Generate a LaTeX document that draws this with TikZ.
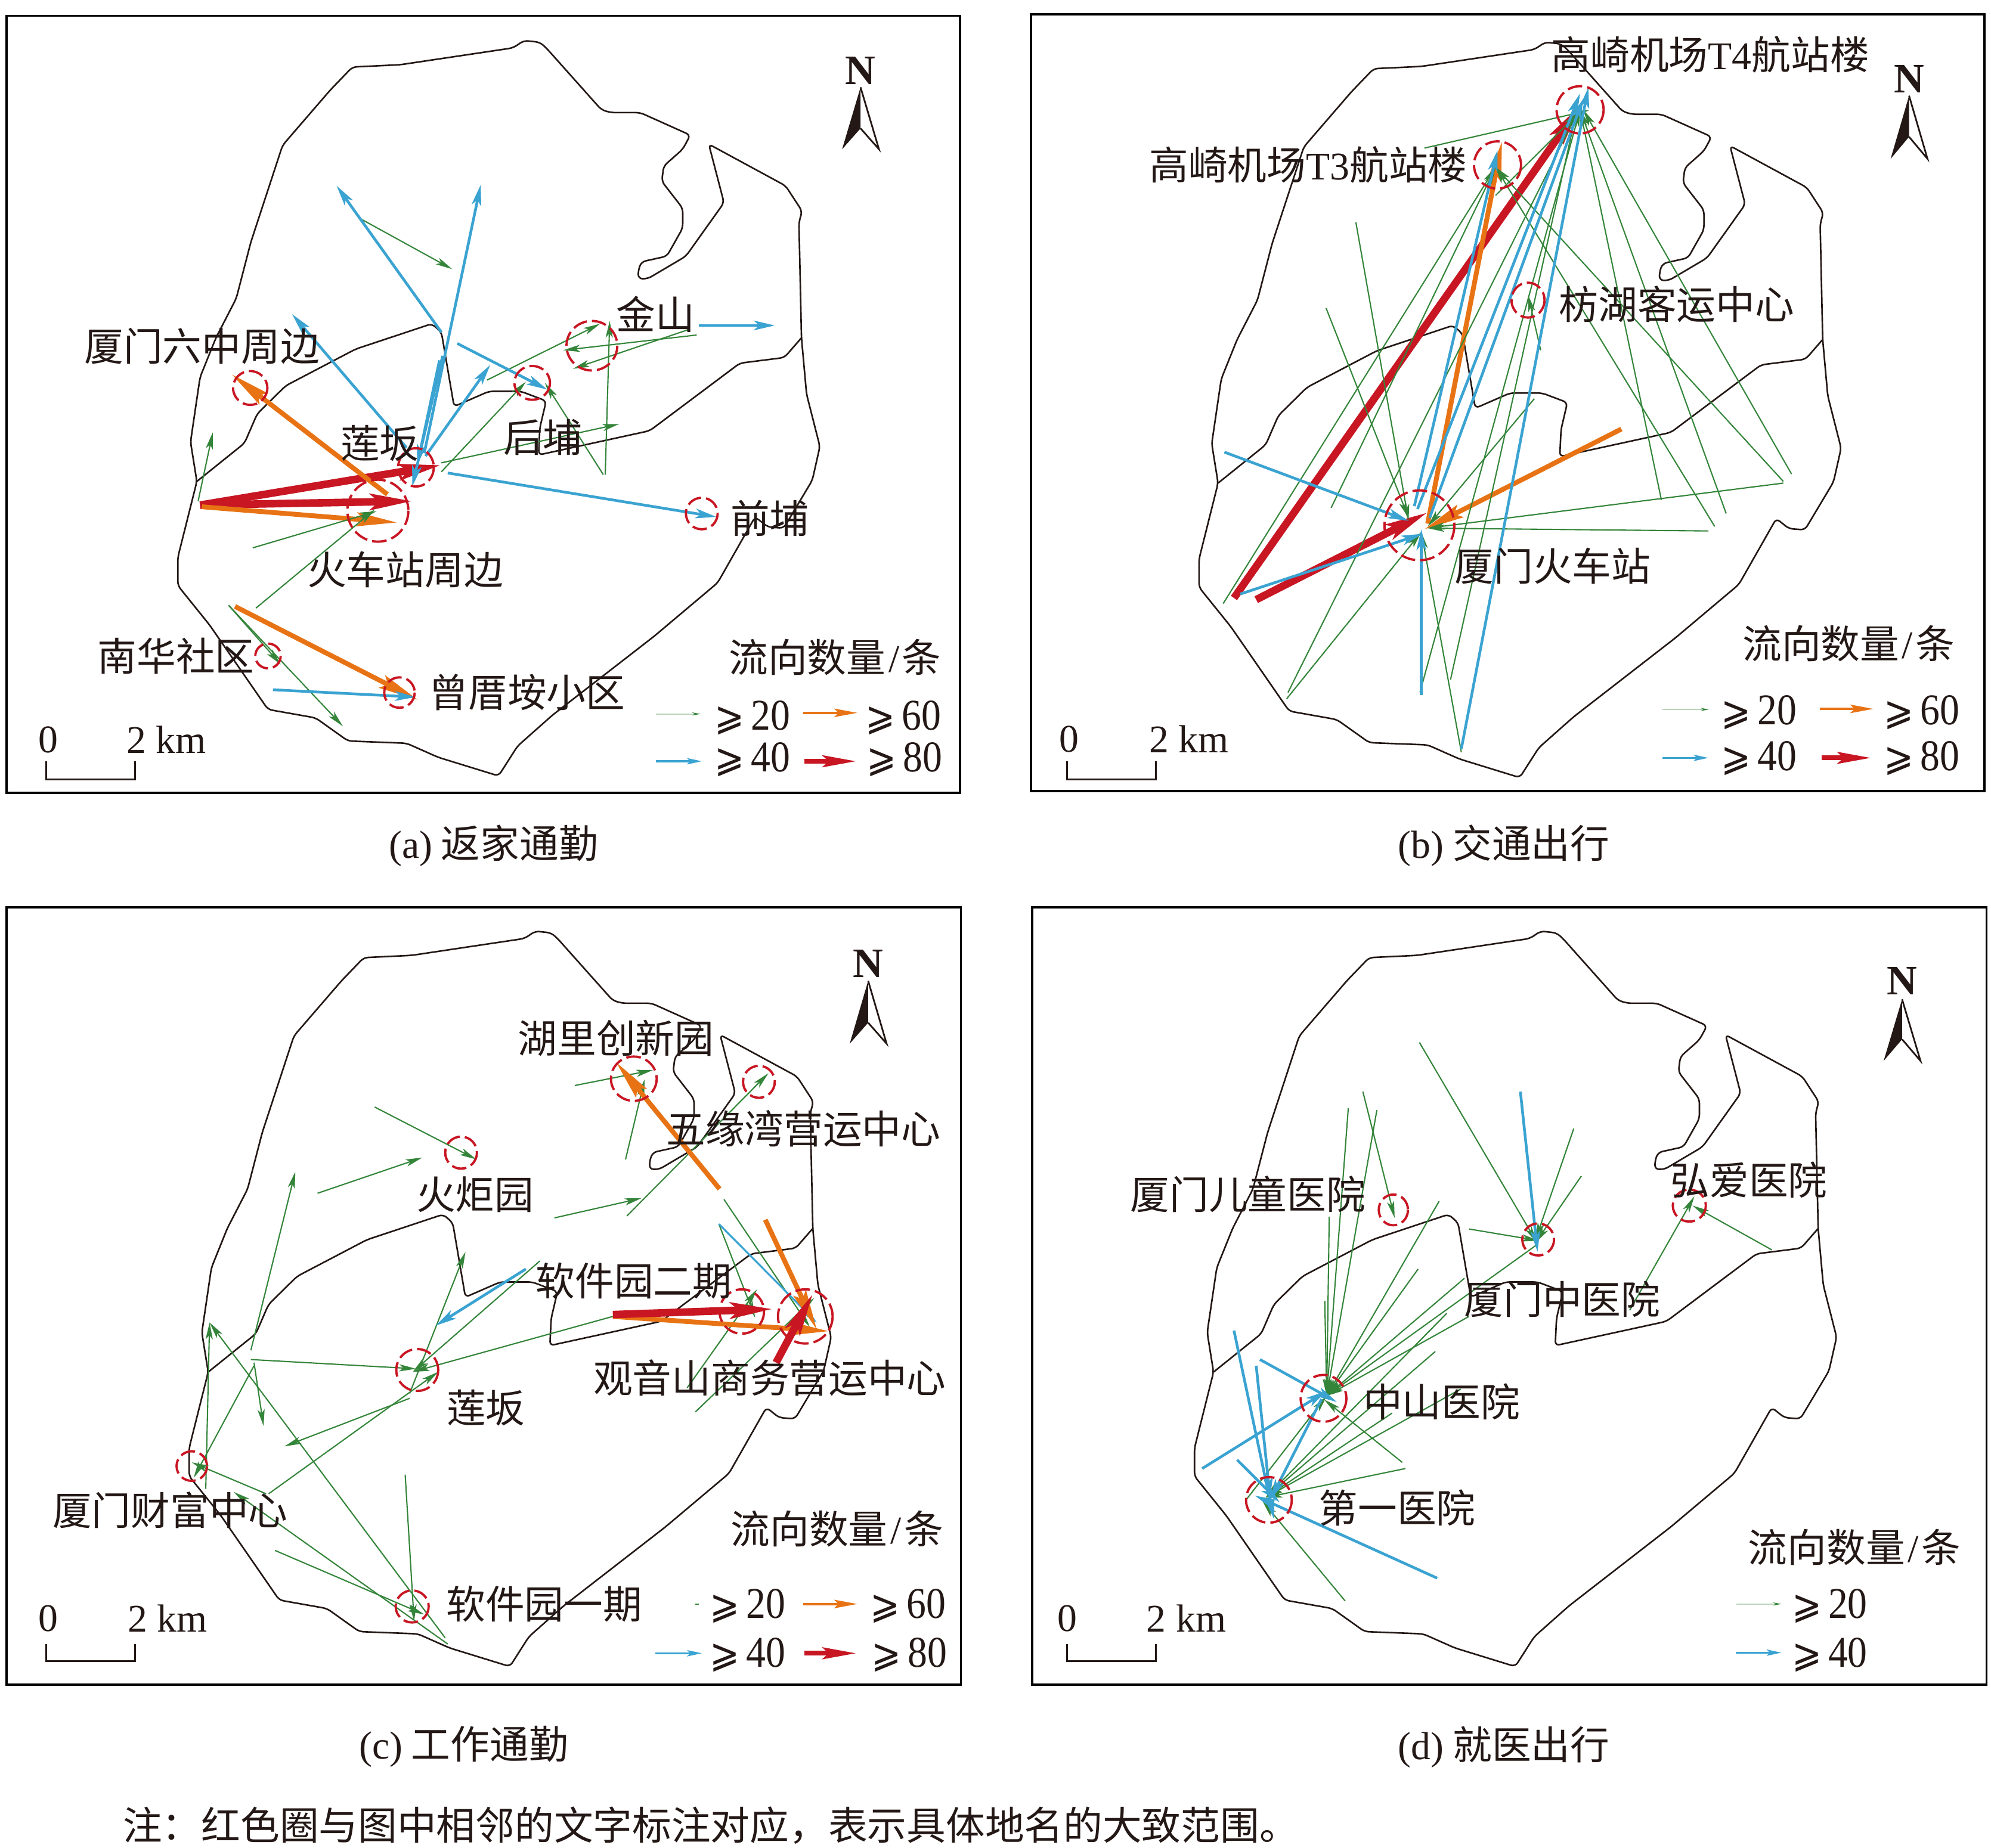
\documentclass[tikz,border=0pt]{standalone}
\usepackage{fontspec}
\setmainfont{Noto Sans CJK SC}
\newfontfamily\ser{Liberation Serif}
\newfontfamily\symf{DejaVu Sans}
\usetikzlibrary{arrows.meta}
\definecolor{flowgreen}{RGB}{52,133,58}
\definecolor{flowblue}{RGB}{58,163,209}
\definecolor{floworange}{RGB}{232,115,20}
\definecolor{flowred}{RGB}{200,22,35}
\definecolor{inkblack}{RGB}{35,24,21}
\tikzset{every node/.append style={text=inkblack,font=\fontsize{18.7}{22}\selectfont,inner sep=0pt}}
\tikzset{panela/.style={shift={(0cm,0cm)},x=0.01065cm,y=-0.00944cm}}
\tikzset{panelb/.style={shift={(16.7cm,0cm)},x=0.01065cm,y=-0.00944cm}}
\tikzset{panelc/.style={shift={(0cm,-14.8cm)},x=0.01065cm,y=-0.010325cm}}
\tikzset{paneld/.style={shift={(16.7cm,-14.8cm)},x=0.01065cm,y=-0.010325cm}}
\tikzset{frame/.style={draw=black,line width=1.1pt}}
\tikzset{coast/.style={draw=inkblack,line width=0.75pt,line join=round,rounded corners=2pt}}
\tikzset{flowg/.style={draw=flowgreen,line width=0.6pt,-{Stealth[length=8pt,width=3.4pt,inset=2pt]}}}
\tikzset{flowb/.style={draw=flowblue,line width=1.3pt,-{Stealth[length=10pt,width=4.6pt,inset=2.5pt]}}}
\tikzset{flowo/.style={draw=floworange,line width=2.3pt,-{Stealth[length=19pt,width=6.5pt,inset=3pt]}}}
\tikzset{flowr/.style={draw=flowred,line width=3.6pt,-{Stealth[length=20pt,width=7.5pt,inset=4pt]}}}
\tikzset{keyg/.style={draw=flowgreen!35,line width=0.5pt,-{Stealth[length=4pt,width=1.5pt,flowgreen]}}}
\tikzset{keyb/.style={draw=flowblue,line width=0.9pt,-{Stealth[length=7pt,width=3pt,inset=1.5pt]}}}
\tikzset{keyo/.style={draw=floworange,line width=1.2pt,-{Stealth[length=11pt,width=4pt,inset=2pt]}}}
\tikzset{keyr/.style={draw=flowred,line width=2.2pt,-{Stealth[length=16pt,width=5.6pt,inset=3pt]}}}
\tikzset{site/.style={draw=flowred,line width=1.1pt,dash pattern=on 7pt off 2.4pt}}
\newcommand{\flows}[2]{\foreach \xa/\ya/\xb/\yb in {#2} {\draw[#1] (\xa,\ya) -- (\xb,\yb);}}
\newcommand{\sites}[1]{\foreach \cx/\cy/\rx/\ry in {#1} {\draw[site] (\cx,\cy) ellipse [x radius=\rx,y radius=\ry];}}
\newcommand{\gq}[1]{\scalebox{1}[1.12]{{\symf\fontsize{17}{20}\selectfont ⩾}\,{\ser #1}}}
\newcommand{\keytitle}{流向数量{\kern.07em\ser/\kern.07em}条}
\newcommand{\drawcoast}[2]{%
  \begin{scope}[shift={(#1cm,#2cm)},x=0.01065cm,y=-0.00944cm]
    \draw[coast] (825,72) -- (808,85) -- (630,115) -- (555,119) -- (520,160) -- (445,258) -- (395,430)
      -- (372,530) -- (340,600) -- (315,670) -- (300,785) -- (310,855) -- (280,990) -- (280,1040)
      -- (330,1110) -- (422,1260) -- (497,1275) -- (548,1316) -- (640,1320) -- (690,1345) -- (785,1378)
      -- (815,1325) -- (870,1270) -- (1030,1130) -- (1130,1035) -- (1189,918) -- (1209,936)
      -- (1234,938) -- (1279,853) -- (1291,793) -- (1270,700) -- (1262,600) -- (1258,395) -- (1263,375)
      -- (1237,330) -- (1116,256) -- (1140,360) -- (1080,455) -- (1020,495) -- (1005,495) -- (1005,480)
      -- (1010,465) -- (1050,455) -- (1075,405) -- (1075,370) -- (1042,322) -- (1045,295) -- (1075,265)
      -- (1087,240) -- (1008,200) -- (962,200) -- (947,195) -- (860,85) -- (850,75) -- cycle;
    \draw[coast] (310,855) -- (385,787) -- (405,735) -- (450,685) -- (560,620) -- (680,575) -- (695,590)
      -- (715,722) -- (770,695) -- (820,695) -- (860,712) -- (850,760) -- (848,808) -- (1023,765)
      -- (1165,645) -- (1235,635) -- (1262,600);
  \end{scope}}
\newcommand{\northarrow}[4]{%
  \fill[inkblack] (#1,#2) -- (#1-29,#4) -- (#1,#3) -- cycle;
  \draw[inkblack,line width=0.8pt,line join=miter] (#1,#2) -- (#1+29,#4) -- (#1,#3);}
\newcommand{\scalebar}[3]{%
  \draw[inkblack,line width=0.8pt] (#1,#2) -- (#1,#3) -- (#1+140,#3) -- (#1+140,#2);}
\newcommand{\northfont}{\fontsize{20}{22}\selectfont\ser\bfseries}

\begin{document}
\begin{tikzpicture}
  \useasboundingbox (0cm,0cm) rectangle (33.39cm,-30.99cm);

  % (a)
  \drawcoast{0}{0}
  \begin{scope}[panela,name prefix=a-]
    \draw[frame] (10,28) rectangle (1512,1408);
    \flows{flowr}{315/897/695/826,315/897/650/890}
    \flows{flowo}{318/900/625/928,610/878/365/665,370/1077/658/1243}
    \flows{flowg}{570/390/712/478,312/890/335/768,398/973/593/908,403/1080/590/905,360/1075/540/1290,
      360/1075/442/1180,767/675/945/575,695/838/828/678,695/822/975/753,950/843/858/680,
      953/843/960/570,1097/595/887/622,1085/585/902/655}
    \flows{flowb}{695/590/530/330,668/805/757/328,640/795/460/558,670/810/772/648,720/610/862/692,
      705/840/1128/918,1100/578/1220/578,430/1225/655/1238,697/632/649/864,692/640/657/826}
    \sites{394/689/27/30,655/830/28/34,595/907/48/55,838/680/28/30,932/614/40/44,1105/912/25/28,
      422/1165/20/22,629/1230/24/27}
    \node (jinshan) at (1032,558) {金山};
    \node (liuzhong) at (318,615) {厦门六中周边};
    \node (lianban) at (598,787) {莲坂};
    \node (houpu) at (855,777) {后埔};
    \node (qianpu) at (1212,920) {前埔};
    \node (station) at (638,1012) {火车站周边};
    \node (nanhua) at (277,1165) {南华社区};
    \node (zengcuoan) at (830,1230) {曾厝垵小区};
    \node (legend) at (1315,1167) {\keytitle};
    \draw[keyg] (1033,1268) -- (1103,1268);
    \draw[keyo] (1265,1266) -- (1350,1266);
    \draw[keyb] (1033,1352) -- (1105,1352);
    \draw[keyr] (1267,1352) -- (1348,1352);
    \node (ltwenty) at (1185,1275) {\gq{20}};
    \node (lsixty) at (1422,1275) {\gq{60}};
    \node (lforty) at (1185,1349) {\gq{40}};
    \node (leighty) at (1424,1349) {\gq{80}};
    \node[font=\northfont] (north) at (1355,125) {N};
    \northarrow{1355}{155}{228}{265}
    \node (zero) at (76,1314) {\ser 0};
    \node (twokm) at (262,1314) {\ser 2 km};
    \scalebar{73}{1352}{1384}
    \node (caption) at (777,1502) {{\ser(a)} 返家通勤};
  \end{scope}

  % (b)
  \drawcoast{17.126}{-0.028}
  \begin{scope}[panelb,name prefix=b-]
    \draw[frame] (55,25) rectangle (1557,1405);
    \flows{flowr}{375/1062/922/185,410/1065/680/910}
    \flows{flowo}{985/762/675/940,680/930/797/251}
    \flows{flowg}{358/1072/787/297,528/902/787/297,567/395/650/925,520/547/650/920,460/1230/918/195,
      458/1241/670/945,733/1336/670/945,848/708/680/935,1240/858/680/938,1122/943/680/938,
      675/263/934/196,1253/842/925/195,1150/912/920/195,1048/888/920/195,1132/935/787/297,
      1240/855/787/297,858/622/838/524,668/1229/920/195,716/1207/915/195,787/347/918/200}
    \flows{flowb}{360/803/650/925,385/1055/672/948,670/1235/670/940,733/1330/933/155,
      659/899/790/267,664/904/920/166,683/920/925/175}
    \sites{920/195/37/42,790/293/37/42,838/533/26/31,667/933/55/62}
    \node (tfour) at (1125,97) {高崎机场{\ser T4}航站楼};
    \node (tthree) at (492,293) {高崎机场{\ser T3}航站楼};
    \node (fanghu) at (1072,540) {枋湖客运中心};
    \node (xmstation) at (877,1005) {厦门火车站};
    \node (legend) at (1343,1143) {\keytitle};
    \draw[keyg] (1050,1260) -- (1123,1260);
    \draw[keyo] (1298,1259) -- (1382,1259);
    \draw[keyb] (1050,1346) -- (1122,1346);
    \draw[keyr] (1300,1346) -- (1378,1346);
    \node (ltwenty) at (1202,1265) {\gq{20}};
    \node (lsixty) at (1458,1265) {\gq{60}};
    \node (lforty) at (1202,1347) {\gq{40}};
    \node (leighty) at (1458,1347) {\gq{80}};
    \node[font=\northfont] (north) at (1438,140) {N};
    \northarrow{1438}{170}{243}{282}
    \node (zero) at (115,1313) {\ser 0};
    \node (twokm) at (304,1313) {\ser 2 km};
    \scalebar{112}{1352}{1384}
    \node (caption) at (800,1502) {{\ser(b)} 交通出行};
  \end{scope}

  % (c)
  \drawcoast{0.19}{-14.94}
  \begin{scope}[panelc,name prefix=c-]
    \draw[frame] (10,41) rectangle (1513,1303);
    \flows{flowg}{590/365/750/450,500/505/665/447,873/545/1010/513,987/542/1210/310,905/330/1028/305,
      985/450/1015/320,1140/515/1275/722,1095/860/1282/675,1082/821/1192/661,1132/555/1189/707,
      965/705/650/795,395/775/655/790,850/615/650/795,645/830/733/600,395/760/465/470,400/780/415/883,
      400/785/305/967,645/838/448/916,423/993/690/795,419/993/302/942,324/985/330/715,701/1227/330/715,
      638/962/652/1200,433/1085/668/1189,705/1237/368/990}
    \draw[flowgreen,line width=0.6pt] (1095,1172) -- (1100,1172);
    \flows{flowb}{828/628/686/720}
    \draw[flowb,line width=0.9pt] (1132,555) -- (1286,715);
    \flows{flowo}{1133/498/970/292,1205/548/1286/726,965/705/1305/729}
    \flows{flowr}{965/702/1217/693,1222/780/1280/668}
    \sites{998/319/36/36,1195/324/25/26,726/439/25/26,1168/697/35/36,1268/705/43/44,657/792/33/34,
      302/948/24/24,649/1176/26/26}
    \node (huli) at (970,253) {湖里创新园};
    \node (wuyuan) at (1265,400) {五缘湾营运中心};
    \node (huoju) at (748,507) {火炬园};
    \node (softtwo) at (998,647) {软件园二期};
    \node (guanyin) at (1212,805) {观音山商务营运中心};
    \node (lianban) at (765,853) {莲坂};
    \node (caifu) at (268,1020) {厦门财富中心};
    \node (softone) at (857,1172) {软件园一期};
    \node (legend) at (1318,1050) {\keytitle};
    \draw[keyo] (1265,1172) -- (1350,1172);
    \draw[keyb] (1032,1252) -- (1105,1252);
    \draw[keyr] (1267,1252) -- (1348,1252);
    \node (ltwenty) at (1177,1175) {\gq{20}};
    \node (lsixty) at (1430,1175) {\gq{60}};
    \node (lforty) at (1177,1255) {\gq{40}};
    \node (leighty) at (1432,1255) {\gq{80}};
    \node[font=\northfont] (north) at (1367,132) {N};
    \northarrow{1367}{160}{228}{262}
    \node (zero) at (76,1195) {\ser 0};
    \node (twokm) at (264,1195) {\ser 2 km};
    \scalebar{73}{1237}{1265}
    \node (caption) at (730,1404) {{\ser(c)} 工作通勤};
  \end{scope}

  % (d)
  \drawcoast{17.05}{-14.94}
  \begin{scope}[paneld,name prefix=d-]
    \draw[frame] (57,41) rectangle (1560,1303);
    \flows{flowg}{578/340/628/545,667/260/852/585,910/400/850/580,922/477/850/585,745/563/855/582,
      850/590/521/834,1222/597/1097/525,998/695/1100/510,555/367/521/834,600/370/521/834,
      525/543/521/834,518/680/521/834,698/518/521/834,665/628/521/834,738/643/521/834,745/705/521/834,
      640/942/517/840,710/700/425/999,692/762/425/999,645/952/425/999,732/823/425/999,624/862/425/999,
      550/1167/420/1005,394/1003/521/834}
    \flows{flowb}{375/728/438/1034,410/785/432/1000,416/775/537/844,325/952/521/826,380/938/447/1007,
      695/1130/408/996,513/839/432/1003,826/340/853/600}
    \sites{626/532/23/25,854/580/25/26,1092/525/26/26,516/838/36/38,430/1003/36/37}
    \node (children) at (397,507) {厦门儿童医院};
    \node (tcm) at (892,677) {厦门中医院};
    \node (hongai) at (1186,483) {弘爱医院};
    \node (zhongshan) at (702,843) {中山医院};
    \node (first) at (632,1016) {第一医院};
    \node (legend) at (1352,1080) {\keytitle};
    \draw[keyg] (1166,1172) -- (1237,1172);
    \draw[keyb] (1165,1251) -- (1237,1251);
    \node (ltwenty) at (1313,1175) {\gq{20}};
    \node (lforty) at (1313,1255) {\gq{40}};
    \node[font=\northfont] (north) at (1427,160) {N};
    \northarrow{1427}{190}{255}{290}
    \node (zero) at (113,1195) {\ser 0};
    \node (twokm) at (300,1195) {\ser 2 km};
    \scalebar{112}{1237}{1265}
    \node (caption) at (800,1404) {{\ser(d)} 就医出行};
  \end{scope}

  \node (note) at (11.92cm,-30.62cm) {注\char"FF1A 红色圈与图中相邻的文字标注对应\char"FF0C 表示具体地名的大致范围。};
\end{tikzpicture}
\end{document}
